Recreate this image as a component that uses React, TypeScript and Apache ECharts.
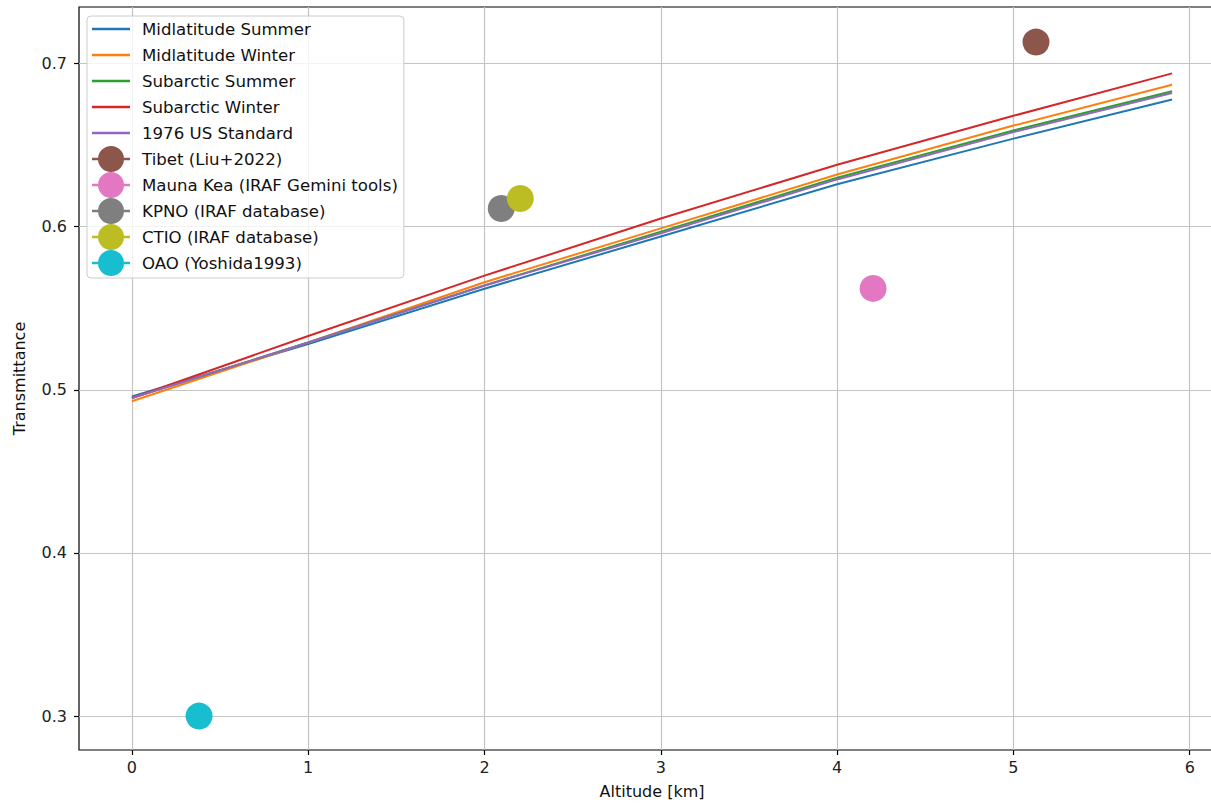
import React, { useEffect, useRef } from "react";
import * as echarts from "echarts";

// ---- data ----
const altitudes = [0, 1, 2, 3, 4, 5, 5.9];
const midlatitudeSummer = [0.496, 0.528, 0.562, 0.594, 0.626, 0.654, 0.678];
const midlatitudeWinter = [0.493, 0.529, 0.566, 0.599, 0.632, 0.662, 0.687];
const subarcticSummer = [0.495, 0.529, 0.564, 0.597, 0.630, 0.659, 0.683];
const subarcticWinter = [0.495, 0.533, 0.570, 0.605, 0.638, 0.668, 0.694];
const usStandard1976 = [0.495, 0.529, 0.564, 0.596, 0.629, 0.658, 0.682];

const modelNames = [
  "Midlatitude Summer",
  "Midlatitude Winter",
  "Subarctic Summer",
  "Subarctic Winter",
  "1976 US Standard",
];
const modelValues = [midlatitudeSummer, midlatitudeWinter, subarcticSummer, subarcticWinter, usStandard1976];
const modelColors = ["#1f77b4", "#ff7f0e", "#2ca02c", "#d62728", "#9467bd"];

const siteNames = [
  "Tibet (Liu+2022)",
  "Mauna Kea (IRAF Gemini tools)",
  "KPNO (IRAF database)",
  "CTIO (IRAF database)",
  "OAO (Yoshida1993)",
];
const siteAltitudes = [5.128, 4.204, 2.095, 2.203, 0.381];
const siteTransmittance = [0.7132, 0.5622, 0.6112, 0.6173, 0.3];
const siteColors = ["#8c564b", "#e377c2", "#7f7f7f", "#bcbd22", "#17becf"];

const xTicks = [0, 1, 2, 3, 4, 5, 6];
const yTicks = [0.3, 0.4, 0.5, 0.6, 0.7];

const FONT = "DejaVu Sans";

const lineIcon =
  "path://M0,0L0.001,0M0,11.8L38,11.8L38,14.2L0,14.2ZM45,26L44.999,26";
const markerIcon =
  "path://M0,0L0.001,0M0,11.8L6.5,11.8L6.5,14.2L0,14.2ZM31.5,11.8L38,11.8L38,14.2L31.5,14.2ZM6,13A13,13 0 1,1 32,13A13,13 0 1,1 6,13ZM45,26L44.999,26";

export default function App() {
  const ref = useRef<HTMLDivElement>(null);

  useEffect(() => {
    if (!ref.current) return;
    const chart = echarts.init(ref.current, null, { renderer: "svg" });

    const lineSeries = modelNames.map((name, i) => ({
      name,
      type: "line",
      data: altitudes.map((a, j) => [a, modelValues[i][j]]),
      symbol: "none",
      lineStyle: { color: modelColors[i], width: 2 },
      itemStyle: { color: modelColors[i] },
      z: 2 + i,
    }));

    const siteSeries = siteNames.map((name, i) => ({
      name,
      type: "scatter",
      data: [[siteAltitudes[i], siteTransmittance[i]]],
      symbol: "circle",
      symbolSize: 27,
      itemStyle: { color: siteColors[i], opacity: 1 },
      z: 10 + i,
    }));

    const legendData = [
      ...modelNames.map((name, i) => ({
        name,
        icon: lineIcon,
        itemStyle: { color: modelColors[i], borderWidth: 0 },
      })),
      ...siteNames.map((name, i) => ({
        name,
        icon: markerIcon,
        itemStyle: { color: siteColors[i], borderWidth: 0 },
      })),
    ];

    const isMultiple = (v: number, step: number) =>
      Math.abs(v / step - Math.round(v / step)) < 1e-6;

    chart.setOption({
      animation: false,
      backgroundColor: "#ffffff",
      grid: {
        show: true,
        left: 79,
        top: 7,
        width: 1146,
        height: 743,
        outerBoundsMode: "none",
        containLabel: false,
        borderColor: "#000000",
        borderWidth: 1.2,
        backgroundColor: "transparent",
      },
      legend: {
        orient: "vertical",
        left: 87,
        top: 16,
        padding: [0, 6, 2, 5],
        itemWidth: 45,
        itemHeight: 26,
        itemGap: 0,
        backgroundColor: "rgba(255,255,255,0.8)",
        borderColor: "#cccccc",
        borderWidth: 1,
        borderRadius: 4,
        selectedMode: false,
        textStyle: { fontFamily: FONT, fontSize: 16.6, color: "#111" },
        data: legendData,
      },
      xAxis: {
        type: "value",
        min: -0.3,
        max: 6.2,
        name: "Altitude [km]",
        nameLocation: "middle",
        nameGap: 33,
        nameTextStyle: { fontFamily: FONT, fontSize: 16, color: "#111" },
        axisLine: { show: false, onZero: false },
        axisTick: {
          show: true,
          inside: false,
          length: 5,
          customValues: xTicks,
          lineStyle: { color: "#000", width: 1.2 },
        },
        axisLabel: {
          margin: 9,
          fontFamily: FONT,
          fontSize: 16,
          color: "#222",
          customValues: xTicks,
          formatter: (v: number) => (isMultiple(v, 1) ? String(Math.round(v)) : ""),
        },
        splitLine: { show: true, lineStyle: { color: "#c4c4c4", width: 1.2 } },
      },
      yAxis: {
        type: "value",
        min: 0.2792,
        max: 0.7347,
        name: "Transmittance",
        nameLocation: "middle",
        nameGap: 52,
        nameTextStyle: { fontFamily: FONT, fontSize: 16, color: "#111" },
        axisLine: { show: false, onZero: false },
        axisTick: {
          show: true,
          inside: false,
          length: 5,
          customValues: yTicks,
          lineStyle: { color: "#000", width: 1.2 },
        },
        axisLabel: {
          margin: 12,
          fontFamily: FONT,
          fontSize: 16,
          color: "#222",
          customValues: yTicks,
          formatter: (v: number) => (isMultiple(v, 0.1) ? v.toFixed(1) : ""),
        },
        splitLine: { show: true, lineStyle: { color: "#c4c4c4", width: 1.2 } },
      },
      series: [...lineSeries, ...siteSeries],
    });

    return () => chart.dispose();
  }, []);

  return (
    <div
      ref={ref}
      style={{ position: "fixed", left: 0, top: 0, width: 1211, height: 805, background: "#fff" }}
    />
  );
}
